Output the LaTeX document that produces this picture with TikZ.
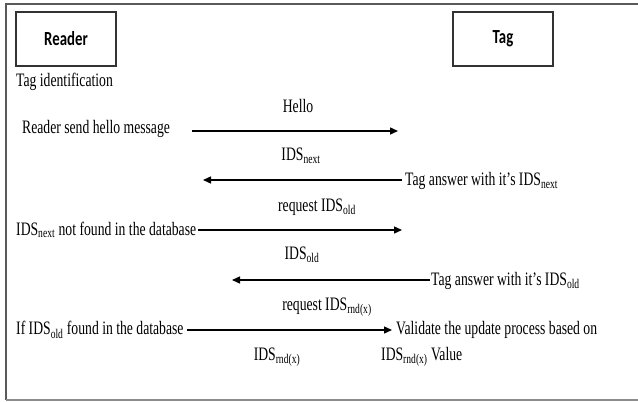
\documentclass[tikz,border=0pt]{standalone}
\usepackage{fontspec}
\setmainfont{Liberation Serif}[FakeStretch=0.72]
\newfontfamily\hdfont{Carlito}[FakeStretch=0.74]
\usetikzlibrary{arrows.meta}
\newcommand\ssub[1]{\textsubscript{#1}}
\tikzset{
  lbl/.style={inner sep=0pt, font=\fontsize{19}{21}\selectfont},
  lblw/.style={lbl, anchor=west},
  actor/.style={draw, line width=1.2pt, draw=black!80, minimum width=100pt, minimum height=54pt, inner sep=0pt, font=\hdfont\bfseries\fontsize{20}{22}\selectfont},
  msg/.style={line width=1.4pt, -{Triangle[length=8pt,width=7pt]}},
}
\begin{document}
\begin{tikzpicture}[x=1pt,y=-1pt]
\useasboundingbox (0,0) rectangle (638,402);
% frame
\draw[line width=2pt, black!65] (638,4) -- (6,4) -- (6,400);
\draw[line width=2pt, black!45] (6,400) -- (638,400);
% actors
\node[actor] (reader) at (66,39) {Reader};
\node[actor] (tag) at (503,39) {Tag};
\node[lblw] (tagid) at (16,82) {Tag identification};
% message 1
\node[lbl] (hello) at (298,106) {Hello};
\node[lblw] (rsend) at (22,129) {Reader send hello message};
\coordinate (a1s) at (192,131);
\coordinate (a1e) at (398,131);
\draw[msg] (a1s) -- (a1e);
% message 2
\node[lbl] (idsnext) at (301,156) {IDS\ssub{next}};
\node[lblw] (tans1) at (405,181) {Tag answer with it's IDS\ssub{next}};
\coordinate (a2e) at (203,180);
\draw[msg] (tans1.west |- a2e) ++(-3,0) -- (a2e);
% message 3
\node[lbl] (req1) at (317,207) {request IDS\ssub{old}};
\node[lblw] (notfound) at (16,230) {IDS\ssub{next} not found in the database};
\coordinate (a3e) at (402,230);
\draw[msg] (notfound.east |- a3e) ++(2,0) -- (a3e);
% message 4
\node[lbl] (idsold) at (302,255) {IDS\ssub{old}};
\node[lblw] (tans2) at (431,281) {Tag answer with it's IDS\ssub{old}};
\coordinate (a4e) at (232,280);
\draw[msg] (tans2.west |- a4e) ++(-1,0) -- (a4e);
% message 5
\node[lbl] (req2) at (327,307) {request IDS\ssub{rnd(x)}};
\node[lblw] (found) at (16,330) {If IDS\ssub{old} found in the database};
\node[lblw] (valid) at (396,330) {Validate the update process based on};
\draw[msg] (found.east |- valid.west) ++(3,0) -- ([xshift=-4pt]valid.west);
\node[lbl] (idsrnd) at (277,357) {IDS\ssub{rnd(x)}};
\node[lblw] (value) at (381,357) {IDS\ssub{rnd(x)} Value};
\end{tikzpicture}
\end{document}
